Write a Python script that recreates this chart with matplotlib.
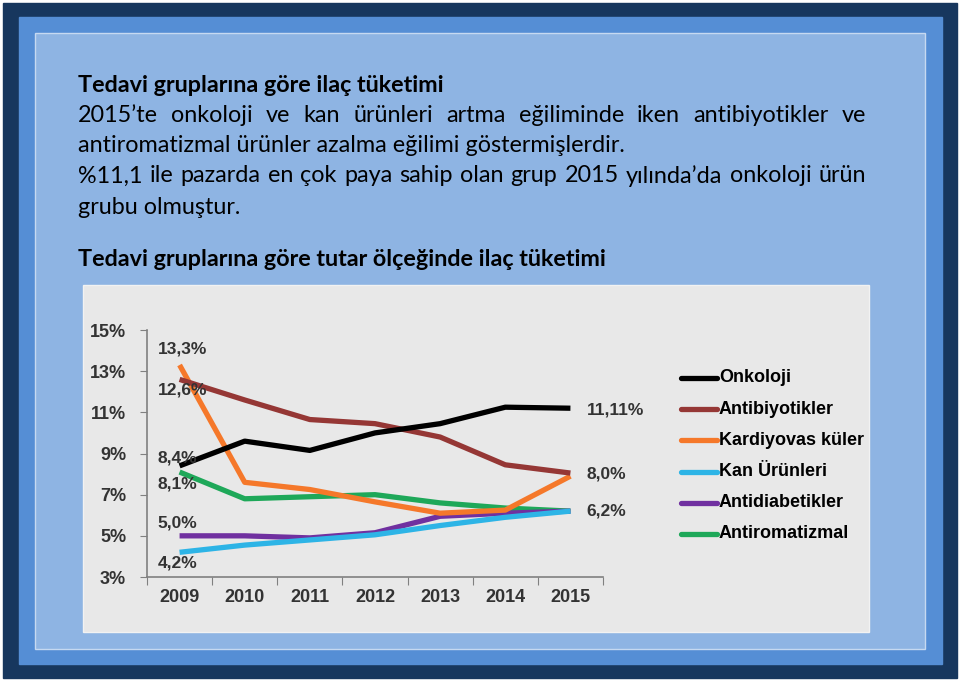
import matplotlib
matplotlib.use("Agg")
import matplotlib.pyplot as plt
from matplotlib.patches import Rectangle

# data
years = ["2009", "2010", "2011", "2012", "2013", "2014", "2015"]
onkoloji = [8.4, 9.6, 9.15, 10.0, 10.45, 11.25, 11.2]
antibiyotikler = [12.6, 11.6, 10.65, 10.45, 9.8, 8.45, 8.05]
kardiyovaskuler = [13.3, 7.6, 7.25, 6.65, 6.1, 6.25, 7.9]
kan_urunleri = [4.2, 4.55, 4.8, 5.05, 5.5, 5.9, 6.2]
antidiabetikler = [5.0, 5.0, 4.9, 5.15, 5.95, 6.1, 6.2]
antiromatizmal = [8.1, 6.8, 6.9, 7.0, 6.6, 6.35, 6.2]
series_names = ["Onkoloji", "Antibiyotikler", "Kardiyovas küler", "Kan Ürünleri",
                "Antidiabetikler", "Antiromatizmal"]
series_colors = ["#000000", "#953735", "#f5782a", "#2db4e6", "#7030a0", "#1ea859"]
yticks = [3, 5, 7, 9, 11, 13, 15]
left_labels = ["13,3%", "12,6%", "8,4%", "8,1%", "5,0%", "4,2%"]
left_label_y = [14.1, 12.1, 8.8, 7.5, 5.6, 3.7]
right_labels = ["11,11%", "8,0%", "6,2%"]
right_label_y = [11.1, 8.0, 6.2]

title1 = "Tedavi gruplarına göre ilaç tüketimi"
line2 = "2015’te onkoloji ve kan ürünleri artma eğiliminde iken antibiyotikler ve"
line3 = "antiromatizmal ürünler azalma eğilimi göstermişlerdir."
line4 = "%11,1 ile pazarda en çok paya sahip olan grup 2015 yılında’da onkoloji ürün"
line5 = "grubu olmuştur."
title2 = "Tedavi gruplarına göre tutar ölçeğinde ilaç tüketimi"

W, H = 960, 683
fig = plt.figure(figsize=(9.6, 6.83), dpi=100)
fig.patch.set_facecolor("white")

# background frame, drawn in pixel coords
bg = fig.add_axes([0, 0, 1, 1])
bg.set_xlim(0, W)
bg.set_ylim(H, 0)
bg.axis("off")
bg.add_patch(Rectangle((3, 3), 954, 675, color="#17375e"))
bg.add_patch(Rectangle((19, 17), 923, 647, color="#558ed5"))
bg.add_patch(Rectangle((35, 33), 890, 616, facecolor="#8eb4e3", edgecolor="#c6d9f1", lw=1))
bg.add_patch(Rectangle((83, 285), 786, 347, facecolor="#e8e8e8", edgecolor="#f2f2f2", lw=1))

fnt = "Lato"
fs = 16.8
bg.text(78, 85, title1, fontsize=fs, fontweight="bold", family=fnt, va="center", color="black")
bg.text(78, 260, title2, fontsize=fs, fontweight="bold", family=fnt, va="center", color="black")

fig.canvas.draw()
renderer = fig.canvas.get_renderer()


def justified(y, text, x0, x1):
    words = text.split(" ")
    objs = [bg.text(0, y, w, fontsize=fs, family=fnt, va="center", color="black") for w in words]
    widths = [o.get_window_extent(renderer).width for o in objs]
    gap = (x1 - x0 - sum(widths)) / (len(words) - 1)
    x = x0
    for o, w in zip(objs, widths):
        o.set_x(x)
        x += w + gap


justified(115, line2, 78, 866)
bg.text(78, 145, line3, fontsize=fs, family=fnt, va="center", color="black")
justified(176, line4, 78, 866)
bg.text(78, 207, line5, fontsize=fs, family=fnt, va="center", color="black")

# chart
ax = fig.add_axes([147 / W, 1 - 577 / H, (603 - 147) / W, (577 - 330) / H])
ax.set_facecolor("none")
x = list(range(len(years)))
all_series = [onkoloji, antibiyotikler, kardiyovaskuler, kan_urunleri, antidiabetikler, antiromatizmal]
for i in [5, 4, 3, 2, 1, 0]:
    ax.plot(x, all_series[i], color=series_colors[i], lw=3.8, solid_capstyle="butt",
            solid_joinstyle="round", zorder=3 + (5 - i))

ax.set_xlim(-0.5, 6.5)
ax.set_ylim(3, 15)
ax.set_yticks(yticks)
ax.set_yticklabels([f"{v}%" for v in yticks])
ax.set_xticks([i + 0.5 for i in range(-1, 7)])
ax.set_xticklabels([])
ax.set_xticks(x, minor=True)
ax.set_xticklabels(years, minor=True)
ax.tick_params(axis="x", which="major", length=6, color="#808080", direction="out")
ax.tick_params(axis="x", which="minor", length=0, pad=9)
ax.tick_params(axis="y", length=5, color="#808080", pad=10)
chart_font = "Liberation Sans"
for lab in ax.get_yticklabels() + ax.get_xticklabels(minor=True):
    lab.set_family(chart_font)
    lab.set_fontweight("bold")
    lab.set_fontsize(13)
    lab.set_color("#333333")
for s in ["top", "right"]:
    ax.spines[s].set_visible(False)
for s in ["left", "bottom"]:
    ax.spines[s].set_color("#808080")
    ax.spines[s].set_linewidth(1.2)

for t, yy in zip(left_labels, left_label_y):
    ax.text(-0.34, yy, t, family=chart_font, fontweight="bold", fontsize=12.5, color="#333333",
            ha="left", va="center", zorder=10)
for t, yy in zip(right_labels, right_label_y):
    ax.text(6.25, yy, t, family=chart_font, fontweight="bold", fontsize=12.5, color="#333333",
            ha="left", va="center", zorder=10)

# legend drawn by hand in pixel coords
for k, (name, c) in enumerate(zip(series_names, series_colors)):
    yy = 378 + k * 31.2
    bg.plot([681, 717], [yy, yy], color=c, lw=3.8, solid_capstyle="round")
    bg.text(719, yy, name, family=chart_font, fontweight="bold", fontsize=13, color="black",
            va="center", ha="left")

fig.savefig("out.png", dpi=100)
